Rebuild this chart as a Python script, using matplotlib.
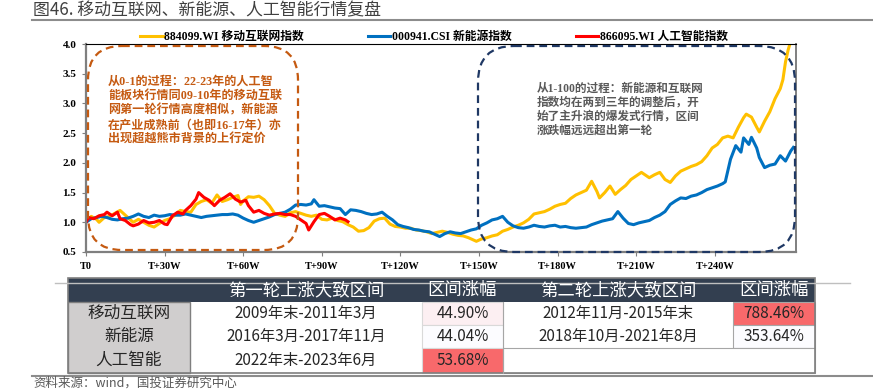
import numpy as np
import matplotlib.pyplot as plt
from matplotlib.patches import FancyBboxPatch, Rectangle
from matplotlib.colors import LinearSegmentedColormap, Normalize

# ---- chart data ----
mi_weeks = [0, 2, 4, 5, 7, 9, 11, 13, 15, 17, 18, 20, 22, 24, 26, 28, 30, 32, 34, 36,
            38, 40, 42, 44, 46, 48, 50, 52, 54, 56, 58, 59, 60, 62, 64, 66, 68, 70, 72, 74,
            76, 78, 80, 82, 84, 86, 88, 90, 92, 94, 96, 98, 100, 102, 104, 106, 108, 110, 112, 114,
            116, 118, 120, 122, 124, 126, 128, 130, 132, 134, 136, 138, 140, 142, 144, 146, 148, 149, 151, 153,
            155, 157, 159, 161, 163, 165, 167, 169, 171, 173, 175, 177, 179, 181, 183, 185, 187, 189, 191, 193,
            195, 196, 198, 200, 202, 204, 206, 208, 210, 212, 214, 215, 217, 219, 221, 223, 225, 227, 229, 231,
            233, 235, 237, 239, 241, 243, 245, 247, 249, 251, 252, 254, 256, 257, 259, 261, 263, 265, 266, 267,
            268, 269, 270]
mi_values = [1.00, 1.10, 1.05, 1.00, 1.08, 1.10, 1.15, 1.20, 1.12, 1.04, 1.00, 1.05, 1.00, 0.95, 0.92, 0.98, 1.03, 1.06, 1.12, 1.20,
             1.18, 1.17, 1.30, 1.35, 1.38, 1.32, 1.46, 1.35, 1.38, 1.42, 1.45, 1.30, 1.36, 1.43, 1.42, 1.44, 1.38, 1.28, 1.15, 1.12,
             1.10, 1.16, 1.18, 1.15, 1.12, 1.10, 1.12, 1.05, 1.04, 1.07, 1.03, 1.01, 0.96, 0.92, 0.85, 0.86, 0.91, 1.02, 1.06, 1.07,
             0.97, 0.93, 0.92, 0.90, 0.90, 0.87, 0.86, 0.84, 0.81, 0.83, 0.85, 0.83, 0.80, 0.78, 0.77, 0.74, 0.70, 0.68, 0.72, 0.74,
             0.77, 0.79, 0.85, 0.88, 0.92, 0.95, 0.99, 1.05, 1.14, 1.16, 1.18, 1.22, 1.27, 1.30, 1.32, 1.40, 1.46, 1.50, 1.54, 1.69,
             1.52, 1.41, 1.50, 1.61, 1.47, 1.55, 1.62, 1.72, 1.78, 1.84, 1.78, 1.75, 1.80, 1.84, 1.72, 1.67, 1.78, 1.86, 1.90, 1.94,
             1.97, 2.02, 2.12, 2.25, 2.31, 2.42, 2.45, 2.42, 2.60, 2.76, 2.82, 2.77, 2.60, 2.52, 2.70, 2.86, 3.08, 3.25, 3.40, 3.70,
             3.90, 4.05, 4.15]

ne_weeks = [0, 2, 4, 6, 8, 10, 12, 14, 16, 18, 20, 22, 24, 26, 28, 30, 32, 34, 36, 38,
            40, 42, 44, 46, 48, 50, 52, 54, 56, 58, 60, 62, 64, 66, 68, 70, 72, 74, 76, 78,
            80, 82, 84, 86, 87, 89, 91, 93, 95, 97, 99, 101, 103, 105, 107, 109, 111, 113, 115, 117,
            119, 121, 123, 125, 127, 129, 131, 133, 135, 137, 139, 141, 143, 145, 147, 149, 151, 153, 155, 157,
            159, 161, 163, 165, 167, 169, 171, 173, 175, 177, 179, 181, 183, 185, 187, 189, 191, 193, 195, 197,
            199, 201, 203, 205, 207, 209, 211, 213, 215, 217, 219, 221, 223, 225, 227, 229, 231, 233, 235, 237,
            239, 241, 243, 244, 246, 248, 250, 251, 253, 254, 256, 257, 259, 261, 263, 265, 267, 269, 270]
ne_values = [1.00, 1.06, 1.08, 1.10, 1.08, 1.05, 1.04, 1.06, 1.07, 1.10, 1.14, 1.10, 1.08, 1.12, 1.10, 1.11, 1.13, 1.12, 1.12, 1.14,
             1.12, 1.10, 1.08, 1.10, 1.11, 1.12, 1.13, 1.13, 1.14, 1.12, 1.07, 1.03, 1.00, 1.03, 1.06, 1.09, 1.13, 1.15, 1.17, 1.22,
             1.29, 1.30, 1.29, 1.31, 1.38, 1.27, 1.28, 1.26, 1.24, 1.23, 1.13, 1.21, 1.20, 1.18, 1.15, 1.13, 1.14, 1.17, 1.10, 1.04,
             0.96, 0.93, 0.91, 0.88, 0.87, 0.85, 0.84, 0.80, 0.76, 0.81, 0.84, 0.82, 0.81, 0.84, 0.87, 0.89, 0.95, 0.99, 1.04, 1.06,
             1.10, 1.00, 0.94, 0.91, 0.90, 0.92, 0.95, 0.93, 0.92, 0.94, 0.95, 0.92, 0.93, 0.91, 0.90, 0.91, 0.92, 0.96, 0.99, 1.02,
             1.04, 1.06, 1.18, 1.07, 0.98, 0.96, 0.99, 1.01, 1.03, 1.08, 1.12, 1.18, 1.30, 1.36, 1.41, 1.40, 1.44, 1.46, 1.50, 1.55,
             1.58, 1.61, 1.65, 1.68, 2.06, 2.29, 2.18, 2.42, 2.31, 2.43, 2.25, 2.09, 1.92, 1.96, 1.98, 2.12, 2.03, 2.20, 2.26]

ai_weeks = [0, 1, 3, 5, 7, 8, 10, 12, 13, 15, 17, 18, 20, 22, 24, 26, 28, 30, 31, 33,
            35, 37, 38, 40, 42, 43, 45, 47, 49, 51, 53, 55, 57, 59, 61, 62, 64, 66, 68, 70,
            72, 74, 76, 78, 80, 82, 84, 85, 87, 89, 91, 93, 95, 97, 99, 100]
ai_values = [1.00, 1.08, 1.06, 1.11, 1.13, 1.17, 1.11, 1.17, 1.06, 1.03, 0.96, 0.94, 0.97, 1.03, 0.99, 1.00, 1.03, 0.97, 0.96, 1.11,
             1.17, 1.14, 1.20, 1.28, 1.39, 1.50, 1.42, 1.37, 1.28, 1.37, 1.42, 1.48, 1.39, 1.34, 1.37, 1.28, 1.17, 1.20, 1.15, 1.12,
             1.14, 1.15, 1.13, 1.13, 1.10, 1.04, 0.98, 0.87, 1.01, 1.13, 1.15, 1.10, 1.04, 1.07, 1.04, 1.01]

series_labels = ['884099.WI 移动互联网指数', '000941.CSI 新能源指数', '866095.WI 人工智能指数']
tick_weeks = [0, 30, 60, 90, 120, 150, 180, 210, 240]
tick_labels = ['T0', 'T+30W', 'T+60W', 'T+90W', 'T+120W', 'T+150W', 'T+180W', 'T+210W', 'T+240W']

# ---- table data ----
table_header = ['', '第一轮上涨大致区间', '区间涨幅', '第二轮上涨大致区间', '区间涨幅']
sectors = ['移动互联网', '新能源', '人工智能']
round1_period = ['2009年末-2011年3月', '2016年3月-2017年11月', '2022年末-2023年6月']
round1_gain = [44.90, 44.04, 53.68]
round2_period = ['2012年11月-2015年末', '2018年10月-2021年8月', '']
round2_gain = [788.46, 353.64, None]

title = '图46. 移动互联网、新能源、人工智能行情复盘'
source = '资料来源：wind，国投证券研究中心'
note_left = ('从0-1的过程：22-23年的人工智\n能板块行情同09-10年的移动互联\n网第一轮行情高度相似，新能源\n'
             '在产业成熟前（也即16-17年）亦\n出现超越熊市背景的上行定价')
note_right = '从1-100的过程：新能源和互联网\n指数均在两到三年的调整后，开\n始了主升浪的爆发式行情，区间\n涨跌幅远远超出第一轮'

CJK = 'Noto Sans CJK SC'
MIX = ['Liberation Serif', 'Noto Sans CJK SC']

W, H = 873, 389
fig = plt.figure(figsize=(W / 100, H / 100), dpi=100)

ax = fig.add_axes([86 / W, 1 - 252 / H, 710 / W, 208 / H], zorder=1)
ax.plot(mi_weeks, mi_values, color='#FFC000', lw=2.2, label=series_labels[0])
ax.plot(ne_weeks, ne_values, color='#0070C0', lw=2.2, label=series_labels[1])
ax.plot(ai_weeks, ai_values, color='#FF0000', lw=2.2, label=series_labels[2])
ax.set_xlim(0, 271)
ax.set_ylim(0.5, 4.0)
ax.set_yticks(np.arange(0.5, 4.01, 0.5))
ax.set_yticklabels([f'{v:.1f}' for v in np.arange(0.5, 4.01, 0.5)])
ax.set_xticks(tick_weeks)
ax.set_xticklabels(tick_labels)
for lab in ax.get_xticklabels():
    lab.set_fontfamily('Liberation Serif'); lab.set_fontweight('bold'); lab.set_fontsize(7.5)
for lab in ax.get_yticklabels():
    lab.set_fontfamily('Liberation Serif'); lab.set_fontweight('bold'); lab.set_fontsize(8)
ax.tick_params(direction='out', length=3, color='#7F7F7F', pad=4)
ax.spines['left'].set_color('#7F7F7F'); ax.spines['left'].set_linewidth(1.6)
ax.spines['bottom'].set_color('#7F7F7F'); ax.spines['bottom'].set_linewidth(1.6)
ax.spines['right'].set_color('#7F7F7F'); ax.spines['right'].set_linewidth(1.4)
ax.spines['top'].set_color('#000000'); ax.spines['top'].set_linewidth(0.8)

fig.legend(loc='center', bbox_to_anchor=(434 / W, 1 - 37 / H), ncol=3, frameon=False,
           prop={'family': MIX, 'weight': 'bold', 'size': 8.5},
           handlelength=1.9, handletextpad=0.15, columnspacing=5.4)

# overlay in pixel coordinates for the frame, notes and table
ov = fig.add_axes([0, 0, 1, 1], zorder=2)
ov.set_xlim(0, W); ov.set_ylim(H, 0); ov.axis('off'); ov.patch.set_alpha(0)

ov.text(33, 10, title, fontfamily=CJK, fontsize=12.2, color='#404040', va='center', ha='left')
ov.plot([32, 873], [20, 20], color='#8C8C8C', lw=1.5)
ov.plot([55, 850], [283, 283], color='#BFBFBF', lw=1)

ov.add_patch(FancyBboxPatch((88, 46), 210, 204, boxstyle='round,pad=0,rounding_size=34',
                            fill=False, ec='#C55A11', lw=1.6, ls=(0, (3.5, 2.2))))
ov.add_patch(FancyBboxPatch((478, 46), 317, 206, boxstyle='round,pad=0,rounding_size=36',
                            fill=False, ec='#1F3864', lw=1.6, ls=(0, (3.5, 2.2))))
ov.text(108, 76, note_left, fontfamily=MIX, fontweight='bold', fontsize=8.7, color='#C55A11',
        va='top', ha='left', linespacing=1.25)
ov.text(537, 83, note_right, fontfamily=MIX, fontweight='bold', fontsize=8.4, color='#595959',
        va='top', ha='left', linespacing=1.2)

# table
col_x = [68, 190, 422, 503, 733, 815]
row_y = [278, 302, 325, 348, 373]
gain_cmap = LinearSegmentedColormap.from_list('gain', ['#FCFCFF', '#F8696B'])

ov.add_patch(Rectangle((col_x[0], row_y[0]), col_x[-1] - col_x[0], row_y[1] - row_y[0], fc='#333F50', ec='none'))
for j, txt in enumerate(table_header):
    ov.text((col_x[j] + col_x[j + 1]) / 2, (row_y[0] + row_y[1]) / 2, txt, fontfamily=CJK,
            fontsize=12.5, color='white', ha='center', va='center')

ov.add_patch(Rectangle((col_x[0], row_y[1]), col_x[1] - col_x[0], row_y[4] - row_y[1],
                       fc='#D0CECE', ec='#7F7F7F', lw=1))

norm1 = Normalize(min(round1_gain), max(round1_gain))
r2_vals = [v for v in round2_gain if v is not None]
norm2 = Normalize(min(r2_vals), max(r2_vals))
for i in range(len(sectors)):
    y0, y1 = row_y[i + 1], row_y[i + 2]
    yc = (y0 + y1) / 2
    ov.text((col_x[0] + col_x[1]) / 2, yc, sectors[i], fontfamily=CJK, fontsize=12,
            color='#262626', ha='center', va='center')
    ov.text((col_x[1] + col_x[2]) / 2, yc, round1_period[i], fontfamily=CJK, fontsize=11,
            color='#262626', ha='center', va='center')
    ov.add_patch(Rectangle((col_x[2], y0), col_x[3] - col_x[2], y1 - y0,
                           fc=gain_cmap(norm1(round1_gain[i])), ec='#D9D9D9', lw=0.8))
    ov.text((col_x[2] + col_x[3]) / 2, yc, f'{round1_gain[i]:.2f}%', fontfamily=CJK, fontsize=11,
            color='#262626', ha='center', va='center')
    if round2_gain[i] is not None:
        ov.text((col_x[3] + col_x[4]) / 2, yc, round2_period[i], fontfamily=CJK, fontsize=11,
                color='#262626', ha='center', va='center')
        ov.add_patch(Rectangle((col_x[4], y0), col_x[5] - col_x[4], y1 - y0,
                               fc=gain_cmap(norm2(round2_gain[i])), ec='#A6A6A6', lw=0.8))
        ov.text((col_x[4] + col_x[5]) / 2, yc, f'{round2_gain[i]:.2f}%', fontfamily=CJK, fontsize=11,
                color='#262626', ha='center', va='center')
    else:
        ov.add_patch(Rectangle((col_x[3], y0), col_x[5] - col_x[3], y1 - y0, fc='white', ec='#A6A6A6', lw=0.8))

ov.plot([col_x[3], col_x[3]], [row_y[1], row_y[4]], color='#A6A6A6', lw=0.8)
ov.add_patch(Rectangle((col_x[0], row_y[0]), col_x[-1] - col_x[0], row_y[4] - row_y[0],
                       fill=False, ec='#7F7F7F', lw=1.2))

ov.plot([32, 873], [376, 376], color='#8C8C8C', lw=1.5)
ov.text(33, 383, source, fontfamily=CJK, fontsize=9, style='italic', color='#595959',
        ha='left', va='center')

fig.savefig('out.png', dpi=100)
